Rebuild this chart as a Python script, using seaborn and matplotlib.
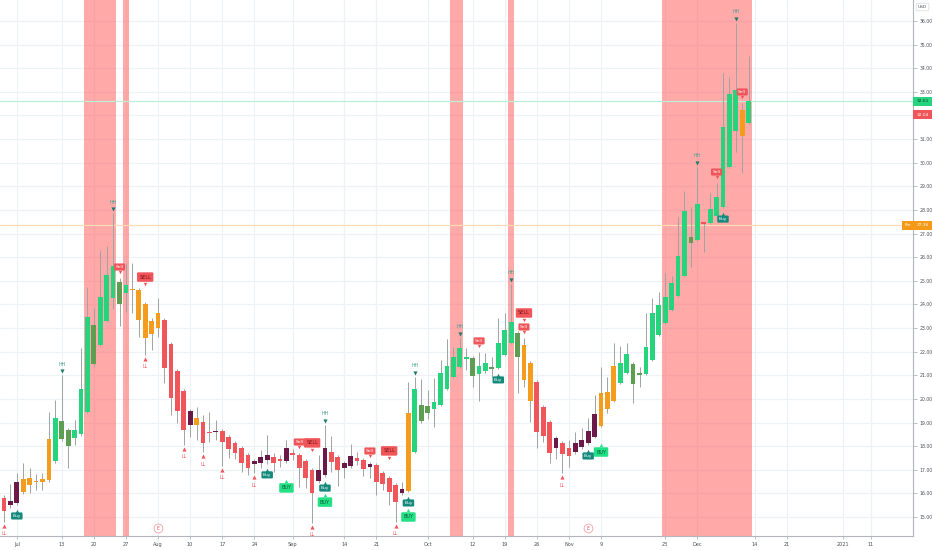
import matplotlib
matplotlib.use("Agg")
import matplotlib.pyplot as plt
import matplotlib.transforms as mtransforms
from matplotlib.patches import Rectangle
import numpy as np
import pandas as pd
import seaborn as sns

# ---------------- data (daily OHLC, trading-day index 0 = Jun 29 2020) ----------------
open_ = [15.81, 15.51, 15.59, 16.61, 16.65, 16.53, 16.61, 16.57, 17.37, 19.07,
         18.68, 18.35, 18.52, 19.45, 23.13, 22.28, 23.30, 24.27, 24.95, 24.48,
         24.65, 24.61, 24.02, 22.75, 23.00, 23.34, 22.33, 21.18, 20.34, 18.90,
         19.19, 19.02, 18.60, 18.60, 18.64, 18.39, 18.13, 17.92, 17.63, 17.25,
         17.29, 17.41, 17.54, 17.46, 17.37, 17.71, 17.63, 17.37, 16.99, 16.53,
         16.78, 17.75, 17.54, 17.08, 17.16, 17.50, 17.41, 17.12, 17.20, 16.86,
         16.65, 16.36, 16.02, 16.10, 17.75, 19.74, 19.70, 19.57, 19.74, 20.42,
         20.93, 21.35, 21.78, 21.73, 21.06, 21.18, 21.35, 21.31, 21.86, 22.37,
         22.79, 22.28, 21.52, 20.72, 19.66, 19.02, 17.92, 18.13, 17.92, 17.75,
         17.96, 18.13, 18.39, 18.85, 19.57, 19.91, 20.67, 21.10, 21.48, 21.10,
         21.06, 21.65, 22.71, 23.21, 23.77, 24.36, 25.20, 26.86, 26.73, 27.49,
         27.45, 27.74, 28.13, 29.82, 31.34, 32.23, 31.68]
high_ = [15.93, 16.40, 16.86, 17.29, 17.08, 16.82, 16.86, 19.45, 19.95, 21.01,
         18.77, 19.11, 22.16, 24.74, 23.85, 26.31, 26.47, 27.87, 25.12, 25.75,
         25.75, 24.70, 24.10, 23.43, 24.27, 23.43, 22.41, 21.27, 20.42, 19.57,
         19.66, 19.32, 19.45, 19.11, 18.73, 18.47, 18.22, 18.01, 17.71, 17.46,
         17.84, 18.47, 17.71, 17.63, 18.26, 17.88, 17.71, 17.46, 17.08, 17.63,
         18.90, 18.43, 17.63, 17.37, 18.09, 17.75, 17.50, 17.33, 17.29, 16.95,
         16.74, 16.44, 16.48, 20.72, 20.93, 20.84, 20.38, 20.89, 21.65, 22.54,
         22.20, 22.58, 22.16, 21.82, 21.99, 21.94, 21.78, 23.43, 23.64, 24.87,
         22.88, 22.58, 21.61, 20.80, 19.74, 19.11, 18.43, 18.22, 18.26, 18.60,
         18.77, 19.19, 20.17, 21.35, 20.93, 22.37, 22.24, 22.37, 21.56, 21.35,
         23.64, 24.27, 24.53, 25.33, 25.20, 27.70, 28.80, 28.13, 29.82, 27.49,
         28.72, 29.14, 33.80, 33.63, 35.92, 32.53, 34.52]
low_ = [14.79, 15.38, 15.51, 15.98, 16.02, 16.14, 16.14, 16.48, 17.29, 18.22,
        17.08, 18.05, 18.43, 19.40, 21.39, 22.24, 23.26, 23.81, 23.09, 23.68,
        23.64, 22.62, 21.86, 22.07, 22.62, 20.67, 19.32, 18.98, 18.05, 18.39,
        18.26, 17.75, 18.18, 18.26, 17.16, 17.50, 17.46, 16.91, 16.78, 16.86,
        17.08, 17.25, 16.91, 17.12, 17.29, 17.41, 16.27, 16.23, 14.75, 16.44,
        16.69, 16.91, 16.31, 16.65, 17.08, 17.20, 16.74, 16.65, 15.93, 16.14,
        15.51, 14.79, 15.93, 16.06, 17.71, 18.98, 19.15, 18.81, 19.70, 20.38,
        20.89, 21.31, 21.22, 20.51, 19.91, 21.10, 20.93, 21.27, 21.82, 22.33,
        20.25, 20.51, 19.02, 17.92, 18.18, 17.29, 17.46, 16.86, 17.12, 17.67,
        17.88, 18.05, 18.35, 18.81, 19.40, 19.87, 20.63, 21.06, 19.83, 20.51,
        21.01, 21.61, 22.66, 23.17, 23.72, 24.32, 25.16, 25.59, 26.69, 26.22,
        27.41, 27.70, 28.08, 29.78, 30.45, 29.57, 31.64]
close_ = [15.26, 15.68, 16.48, 16.06, 16.36, 16.48, 16.48, 18.30, 19.19, 18.30,
          18.01, 18.68, 20.42, 23.47, 21.48, 24.32, 25.25, 25.63, 24.02, 24.82,
          24.61, 23.34, 22.58, 23.30, 23.64, 21.31, 20.04, 19.49, 18.68, 19.49,
          18.90, 18.13, 18.56, 18.64, 18.18, 17.88, 17.71, 17.29, 17.08, 17.37,
          17.54, 17.63, 17.29, 17.37, 17.92, 17.63, 17.08, 16.65, 16.02, 16.99,
          17.92, 17.33, 16.99, 17.29, 17.58, 17.37, 17.03, 17.25, 16.48, 16.40,
          16.06, 15.64, 16.19, 19.40, 20.42, 19.07, 19.40, 19.87, 21.10, 21.39,
          21.78, 22.16, 21.69, 20.97, 21.39, 21.52, 21.27, 22.37, 22.92, 23.26,
          21.78, 20.80, 19.91, 18.60, 18.43, 17.71, 18.35, 17.67, 17.58, 18.13,
          18.26, 18.64, 19.36, 20.25, 20.29, 21.39, 21.52, 21.90, 20.63, 21.01,
          22.20, 23.64, 23.98, 24.32, 24.91, 26.05, 27.96, 26.60, 28.25, 27.41,
          28.04, 28.55, 31.51, 32.91, 33.08, 31.13, 32.61]
# bar colour state from the indicator: G bull, g weak bull, O caution, R bear, P weak bear
bar_state = list("RPPOOOOOGg" "gGGGgGGGgG" "OOOOORRRRP" "ORRPRRRRRP" "PPRRPRRRRP"
                 "PRRPPRRPRR" "RRPOGggGGG" "GGGgGGgGGG" "gOORRRPRRP" "PPPOOOGGgg"
                 "GGGGGGGgGR" "GGGGGOG")

tick_labels = ["Jul", "13", "20", "27", "Aug", "10", "17", "24", "Sep", "14", "21",
               "Oct", "12", "19", "26", "Nov", "9", "23", "Dec", "14", "21", "2021", "11"]
tick_pos = [2, 9, 14, 19, 24, 29, 34, 39, 45, 53, 58, 66, 73, 78, 83, 88, 93, 103,
            108, 117, 122, 130.7, 135]
price_ticks = list(range(15, 37))

hh_idx = [9, 17, 50, 64, 71, 79, 108, 114]
ll_idx = [0, 22, 28, 31, 34, 39, 48, 61, 87]
buy_idx = [2, 41, 50, 63, 77, 91, 112]
buy_strong_idx = [44, 50, 63, 93]
sell_idx = [18, 46, 57, 74, 81, 111, 115]
sell_strong_idx = [22, 48, 60, 81]
band_ranges = [(13, 17), (19, 19), (70, 71), (79, 79), (103, 116)]
earnings_idx = [24, 91]
last_price = 32.61
ref_price = 32.04
pre_price = 27.36

palette = {"G": "#26d47e", "g": "#5e9e52", "O": "#f39c1e", "R": "#f0555a", "P": "#6b1a47"}

# ---------------- figure ----------------
sns.set_theme(style="white")
plt.rcParams["font.family"] = ["DejaVu Sans"]

W, H = 932, 550
fig = plt.figure(figsize=(W / 100, H / 100), dpi=100)
fig.patch.set_facecolor("white")
ax = fig.add_axes([0, 14 / H, 913 / W, 536 / H])
ax.set_facecolor("white")
ax.set_xlim(-0.62, 141.6)
ax.set_ylim(14.196, 36.889)

df = pd.DataFrame({"i": np.arange(len(open_)), "o": open_, "h": high_, "l": low_,
                   "c": close_, "s": bar_state})
df["color"] = df["s"].map(palette)
df["bottom"] = df[["o", "c"]].min(axis=1)
df["height"] = (df["o"] - df["c"]).abs().clip(lower=0.045)

# shaded bands (semi-transparent over the grid)
for a, b in band_ranges:
    ax.axvspan(a - 0.5, b + 0.5, color="#ff6b6b", alpha=0.58, lw=0, zorder=0.8)

# grid
ax.set_xticks(tick_pos)
ax.set_xticklabels(tick_labels)
ax.set_yticks(price_ticks)
# the 32.00 label is hidden behind the price tags on the right scale
ax.set_yticklabels(["" if v == 32 else f"{v:.2f}" for v in price_ticks])
ax.grid(True, color="#eef1f6", lw=0.9)
ax.set_axisbelow(True)

# reference lines
ax.axhline(last_price, color="#bfeed5", lw=0.9, zorder=1)
ax.axhline(pre_price, color="#fbdcb5", lw=0.9, zorder=1)

# candles
ax.vlines(df["i"], df["l"], df["h"], color="#9ea4a2", lw=0.7, zorder=2)
ax.bar(df["i"], df["height"], bottom=df["bottom"], width=0.74, color=df["color"],
       lw=0, zorder=3)


def shifted(dy):
    return mtransforms.offset_copy(ax.transData, fig=fig, x=0, y=dy, units="dots")


# HH / LL pivots
hh = df.loc[hh_idx]
ll = df.loc[ll_idx]
sns.scatterplot(x=hh["i"].values, y=hh["h"].values, marker="v", color="#1f7a6e",
                s=9, linewidth=0, ax=ax, transform=shifted(4), zorder=4)
sns.scatterplot(x=ll["i"].values, y=ll["l"].values, marker="^", color="#f0555a",
                s=9, linewidth=0, ax=ax, transform=shifted(-4), zorder=4)
for _, r in hh.iterrows():
    ax.text(r["i"], r["h"], "HH", transform=shifted(11), ha="center", va="center",
            fontsize=3.3, color="#3f9c8e", zorder=4)
for _, r in ll.iterrows():
    ax.text(r["i"], r["l"], "LL", transform=shifted(-12), ha="center", va="center",
            fontsize=3.3, color="#f0555a", zorder=4)


def label(i, y, text, dy, fc, tc, fs, pad, ptr_dy, ptr_marker):
    ax.text(i, y, text, transform=shifted(dy), ha="center", va="center", fontsize=fs,
            color=tc, zorder=6,
            bbox=dict(boxstyle=f"round,pad={pad},rounding_size=0.25", fc=fc, ec="none"))
    ax.scatter([i], [y], marker=ptr_marker, s=6, color=fc, lw=0, zorder=6,
               transform=shifted(ptr_dy))


for i in buy_idx:
    label(i, low_[i], "Buy", -11, "#138a7c", "white", 3.2, 0.35, -6, "^")
for i in buy_strong_idx:
    label(i, low_[i], "BUY", -25, "#22e083", "#0d5a39", 3.6, 0.45, -18, "^")
for i in sell_idx:
    label(i, high_[i], "Sell", 11, "#f0555a", "white", 3.2, 0.35, 6, "v")
for i in sell_strong_idx:
    label(i, high_[i], "SELL", 25, "#f0555a", "#7a1418", 3.6, 0.45, 18, "v")

# earnings markers
etr = mtransforms.blended_transform_factory(ax.transData, ax.transAxes)
ax.scatter(earnings_idx, [0.014] * len(earnings_idx), transform=etr, s=40, marker="o",
           facecolor="white", edgecolor="#f3a2a7", lw=0.6, zorder=5, clip_on=False)
for i in earnings_idx:
    ax.text(i, 0.014, "E", transform=etr, ha="center", va="center", fontsize=3.3,
            color="#e8505b", zorder=6)

# axes styling
for side in ["top", "left"]:
    ax.spines[side].set_visible(False)
for side in ["right", "bottom"]:
    ax.spines[side].set_color("#b2b5be")
    ax.spines[side].set_linewidth(0.8)
ax.yaxis.tick_right()
ax.tick_params(axis="y", right=True, left=False, labelright=True, labelleft=False,
               length=3, width=0.6, color="#b2b5be", labelsize=3.3,
               labelcolor="#4b4f5a", pad=1.5)
ax.tick_params(axis="x", bottom=True, length=2, width=0.6, color="#b2b5be",
               labelsize=3.6, labelcolor="#4b4f5a", pad=2)
ax.set_xlabel("")
ax.set_ylabel("")

# price tags on the right scale
ftr = mtransforms.blended_transform_factory(fig.transFigure, ax.transData)
tag_h = 9 / 23.62
for price, fc, txt_c in [(last_price, "#26d47e", "#0b3d24"), (ref_price, "#f0555a", "white")]:
    fig.add_artist(Rectangle((913 / W, price - tag_h / 2), 19 / W, tag_h, transform=ftr,
                             fc=fc, ec="none", zorder=7))
    fig.text(922.5 / W, price, f"{price:.2f}", transform=ftr, ha="center", va="center",
             fontsize=3.2, color=txt_c, zorder=8)
fig.add_artist(Rectangle((902 / W, pre_price - tag_h / 2), 30 / W, tag_h, transform=ftr,
                         fc="#f59a17", ec="none", zorder=7))
fig.text(907.5 / W, pre_price, "Pre", transform=ftr, ha="center", va="center",
         fontsize=3.0, color="white", zorder=8)
fig.text(923 / W, pre_price, f"{pre_price:.2f}", transform=ftr, ha="center", va="center",
         fontsize=3.2, color="white", zorder=8)
fig.text(922.5 / W, 1 - 7 / H, "USD", ha="center", va="center", fontsize=3.2,
         color="#4b4f5a",
         bbox=dict(boxstyle="round,pad=0.4,rounding_size=0.3", fc="white", ec="#d6d9de",
                   lw=0.5))

fig.savefig("out.png", dpi=100, facecolor="white")
